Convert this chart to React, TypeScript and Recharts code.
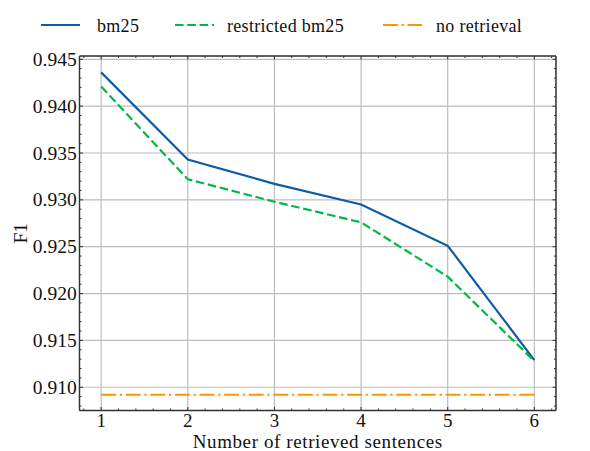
import React from 'react';
import { LineChart, Line, XAxis, YAxis, CartesianGrid, ReferenceLine } from 'recharts';

const retrieved = [1, 2, 3, 4, 5, 6];
const bm25 = [0.9436, 0.9343, 0.9317, 0.9295, 0.9251, 0.9129];
const restrictedBm25 = [0.9421, 0.9322, 0.9298, 0.9276, 0.9218, 0.9128];
const noRetrieval = [0.9092, 0.9092, 0.9092, 0.9092, 0.9092, 0.9092];

const xTicks = [1, 2, 3, 4, 5, 6];
const yTicks = [0.91, 0.915, 0.92, 0.925, 0.93, 0.935, 0.94, 0.945];
const xMinorTicks = [
  0.8, 1.0, 1.2, 1.4, 1.6, 1.8, 2.0, 2.2, 2.4, 2.6, 2.8, 3.0, 3.2, 3.4, 3.6, 3.8,
  4.0, 4.2, 4.4, 4.6, 4.8, 5.0, 5.2, 5.4, 5.6, 5.8, 6.0, 6.2,
];
const yMinorTicks: number[] = [];
for (let i = 908; i <= 945; i++) yMinorTicks.push(i / 1000);

const X_DOMAIN: [number, number] = [0.75, 6.25];
const Y_DOMAIN: [number, number] = [0.90752, 0.94535];

const series = [
  { key: 'bm25', name: 'bm25', values: bm25, color: '#0C5DA5', dash: undefined as string | undefined },
  { key: 'restricted', name: 'restricted bm25', values: restrictedBm25, color: '#00B945', dash: '8.6 3.7' },
  { key: 'none', name: 'no retrieval', values: noRetrieval, color: '#FF9500', dash: '14.9 3.7 2.3 3.7' },
];

const data = retrieved.map((x, i) => {
  const row: Record<string, number> = { x };
  series.forEach((s) => (row[s.key] = s.values[i]));
  return row;
});

const W = 590;
const H = 451;
const PLOT_TOP = 56;
const PLOT_BOTTOM = 410.5;
const PLOT_LEFT = 79.5;
const PLOT_RIGHT = 556;
const MAJOR_PX = 3.5;
const MINOR_PX = 2;
const FONT = '"Liberation Serif", "Times New Roman", serif';
const AXIS_COLOR = '#333';
const TICK_FONT = 19.5;

const xUnitPx = (PLOT_RIGHT - PLOT_LEFT) / (X_DOMAIN[1] - X_DOMAIN[0]);
const yUnitPx = (PLOT_BOTTOM - PLOT_TOP) / (Y_DOMAIN[1] - Y_DOMAIN[0]);

const isMajorX = (v: number) => Math.abs(v - Math.round(v)) < 1e-6;
const isMajorY = (v: number) => Math.abs(v * 200 - Math.round(v * 200)) < 1e-6;

const XLabelTick = (props: any) => {
  const { x, payload } = props;
  return (
    <text x={x} y={427.3} textAnchor="middle" fontFamily={FONT} fontSize={19} fill="#111">
      {payload.value}
    </text>
  );
};

const YLabelTick = (props: any) => {
  const { y, payload } = props;
  return (
    <text x={PLOT_LEFT - 2.8} y={y} dy="0.34em" textAnchor="end" fontFamily={FONT} fontSize={TICK_FONT} fill="#111">
      {Number(payload.value).toFixed(3)}
    </text>
  );
};

const tickMarks = () => {
  const out: React.ReactNode[] = [];
  xMinorTicks.forEach((v) => {
    const len = (isMajorX(v) ? MAJOR_PX : MINOR_PX) / yUnitPx;
    out.push(
      <ReferenceLine key={`xb${v}`} segment={[{ x: v, y: Y_DOMAIN[0] }, { x: v, y: Y_DOMAIN[0] + len }]} stroke={AXIS_COLOR} strokeWidth={1} ifOverflow="visible" />,
      <ReferenceLine key={`xt${v}`} segment={[{ x: v, y: Y_DOMAIN[1] }, { x: v, y: Y_DOMAIN[1] - len }]} stroke={AXIS_COLOR} strokeWidth={1} ifOverflow="visible" />
    );
  });
  yMinorTicks.forEach((v) => {
    const len = (isMajorY(v) ? MAJOR_PX : MINOR_PX) / xUnitPx;
    out.push(
      <ReferenceLine key={`yl${v}`} segment={[{ x: X_DOMAIN[0], y: v }, { x: X_DOMAIN[0] + len, y: v }]} stroke={AXIS_COLOR} strokeWidth={1} ifOverflow="visible" />,
      <ReferenceLine key={`yr${v}`} segment={[{ x: X_DOMAIN[1], y: v }, { x: X_DOMAIN[1] - len, y: v }]} stroke={AXIS_COLOR} strokeWidth={1} ifOverflow="visible" />
    );
  });
  return out;
};

const legendLineX = [41, 175, 383];
const legendTextX = [97, 227, 436];

const LegendBar = () => (
  <svg width={W} height={50} style={{ position: 'absolute', left: 0, top: 0 }}>
    {series.map((s, i) => (
      <g key={s.key}>
        <line x1={legendLineX[i]} x2={legendLineX[i] + 39} y1={25} y2={25} stroke={s.color} strokeWidth={2.2} strokeDasharray={s.dash} />
        <text x={legendTextX[i]} y={31.5} fontFamily={FONT} fontSize={18} letterSpacing={0.3} fill="#111">
          {s.name}
        </text>
      </g>
    ))}
  </svg>
);

export default function App() {
  return (
    <div style={{ position: 'absolute', left: 0, top: 0, width: W, height: H, background: '#fff' }}>
      <LineChart
        width={W}
        height={H}
        data={data}
        margin={{ top: PLOT_TOP, right: W - PLOT_RIGHT, bottom: 0, left: 0 }}
      >
        <CartesianGrid stroke="#bdbdbd" strokeWidth={1.2} />
        <XAxis
          dataKey="x"
          type="number"
          domain={X_DOMAIN}
          allowDataOverflow
          ticks={xTicks}
          interval={0}
          height={H - PLOT_BOTTOM}
          tickSize={0}
          tickLine={false}
          axisLine={{ stroke: AXIS_COLOR, strokeWidth: 1.4 }}
          tick={<XLabelTick />}
          label={{
            value: 'Number of retrieved sentences',
            position: 'insideBottom',
            offset: 2.8,
            style: { fontFamily: FONT, fontSize: 19, letterSpacing: 0.6, fill: '#111' },
          }}
        />
        <YAxis
          type="number"
          domain={Y_DOMAIN}
          allowDataOverflow
          ticks={yTicks}
          interval={0}
          width={PLOT_LEFT}
          tickSize={0}
          tickLine={false}
          axisLine={{ stroke: AXIS_COLOR, strokeWidth: 1.4 }}
          tick={<YLabelTick />}
          label={{
            value: 'F1',
            angle: -90,
            position: 'insideLeft',
            offset: 20,
            style: { fontFamily: FONT, fontSize: TICK_FONT, fill: '#111', textAnchor: 'middle' },
          }}
        />
        <ReferenceLine y={Y_DOMAIN[1]} stroke={AXIS_COLOR} strokeWidth={1.4} ifOverflow="visible" />
        <ReferenceLine x={X_DOMAIN[1]} stroke={AXIS_COLOR} strokeWidth={1.4} ifOverflow="visible" />
        {tickMarks()}
        {series.map((s) => (
          <Line
            key={s.key}
            dataKey={s.key}
            name={s.name}
            type="linear"
            stroke={s.color}
            strokeWidth={2.2}
            strokeDasharray={s.dash}
            dot={false}
            activeDot={false}
            isAnimationActive={false}
          />
        ))}
      </LineChart>
      <LegendBar />
    </div>
  );
}
